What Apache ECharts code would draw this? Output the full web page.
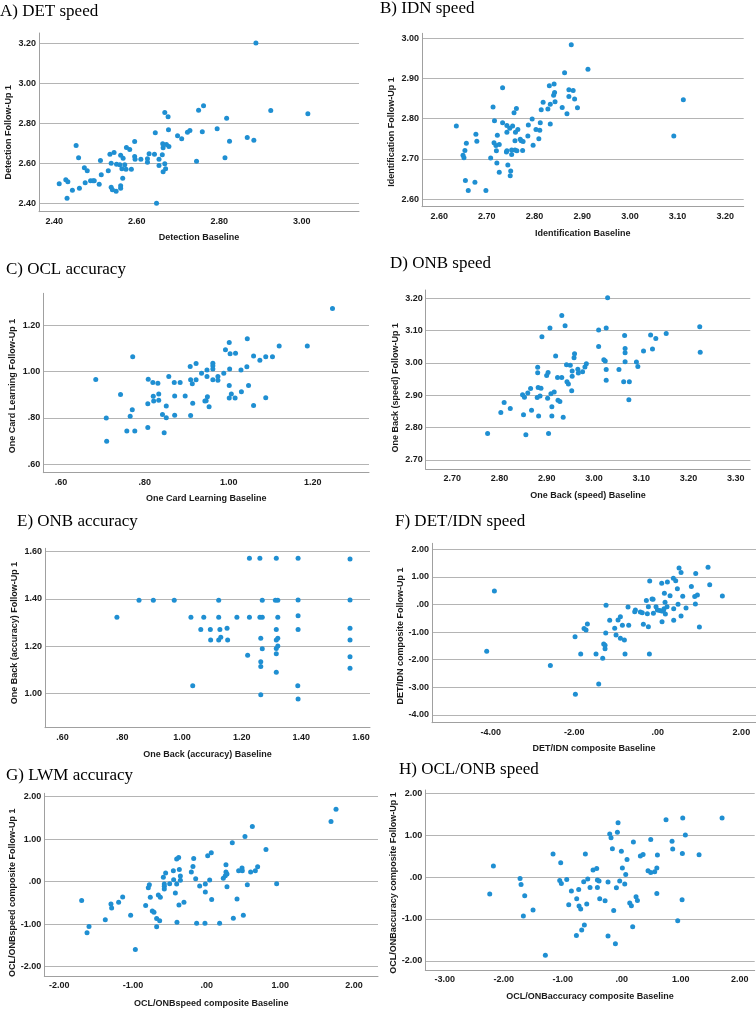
<!DOCTYPE html>
<html><head><meta charset="utf-8">
<script src="https://cdn.jsdelivr.net/npm/echarts@6/dist/echarts.min.js"></script>
<style>html,body{margin:0;padding:0;background:#fff}#c{width:756px;height:1009px}</style>
</head><body><div id="c"></div>
<script>
// ---------- DATA (baseline, follow-up 1) ----------
const detSpeed = [[2.412,2.498],[2.428,2.517],[2.433,2.508],[2.431,2.425],[2.444,2.465],[2.453,2.688],[2.459,2.627],[2.461,2.475],[2.473,2.577],[2.475,2.503],[2.480,2.563],[2.488,2.513],[2.494,2.513],[2.497,2.513],[2.509,2.495],[2.512,2.613],[2.514,2.542],[2.531,2.562],[2.535,2.645],[2.538,2.600],[2.538,2.480],[2.541,2.467],[2.545,2.653],[2.550,2.460],[2.551,2.595],[2.559,2.592],[2.561,2.640],[2.561,2.488],[2.561,2.475],[2.564,2.573],[2.566,2.525],[2.567,2.625],[2.571,2.592],[2.574,2.570],[2.575,2.678],[2.583,2.668],[2.587,2.570],[2.595,2.708],[2.595,2.633],[2.596,2.620],[2.610,2.620],[2.626,2.622],[2.626,2.605],[2.630,2.647],[2.643,2.645],[2.645,2.752],[2.648,2.400],[2.654,2.620],[2.654,2.588],[2.662,2.642],[2.663,2.697],[2.664,2.677],[2.664,2.558],[2.668,2.853],[2.668,2.597],[2.670,2.573],[2.672,2.693],[2.676,2.832],[2.677,2.767],[2.678,2.683],[2.699,2.737],[2.709,2.722],[2.723,2.755],[2.729,2.763],[2.745,2.610],[2.750,2.865],[2.759,2.757],[2.762,2.887],[2.795,2.772],[2.814,2.627],[2.818,2.825],[2.825,2.710],[2.868,2.728],[2.884,2.715],[2.889,3.200],[2.925,2.863],[3.015,2.847]];
const idnSpeed = [[2.636,2.782],[2.650,2.709],[2.652,2.703],[2.654,2.721],[2.655,2.646],[2.657,2.739],[2.661,2.621],[2.675,2.642],[2.677,2.761],[2.679,2.744],[2.698,2.621],[2.708,2.702],[2.713,2.829],[2.715,2.740],[2.716,2.795],[2.719,2.733],[2.720,2.720],[2.721,2.690],[2.722,2.759],[2.726,2.736],[2.726,2.667],[2.733,2.877],[2.733,2.790],[2.741,2.717],[2.742,2.783],[2.742,2.766],[2.742,2.720],[2.744,2.685],[2.748,2.776],[2.749,2.658],[2.750,2.670],[2.752,2.711],[2.752,2.722],[2.754,2.782],[2.757,2.815],[2.759,2.745],[2.759,2.722],[2.760,2.766],[2.762,2.825],[2.763,2.720],[2.765,2.773],[2.770,2.749],[2.772,2.745],[2.776,2.743],[2.775,2.721],[2.786,2.757],[2.787,2.784],[2.795,2.799],[2.797,2.734],[2.803,2.773],[2.809,2.750],[2.811,2.771],[2.812,2.790],[2.814,2.822],[2.818,2.841],[2.828,2.824],[2.831,2.882],[2.833,2.836],[2.833,2.787],[2.840,2.858],[2.841,2.886],[2.842,2.865],[2.843,2.842],[2.858,2.828],[2.863,2.914],[2.868,2.812],[2.872,2.872],[2.872,2.855],[2.877,2.984],[2.881,2.870],[2.884,2.849],[2.890,2.827],[2.912,2.923],[3.092,2.757],[3.112,2.847]];
const oclAcc = [[0.683,0.966],[0.708,0.800],[0.709,0.699],[0.742,0.901],[0.757,0.744],[0.765,0.807],[0.770,0.835],[0.771,1.064],[0.776,0.744],[0.807,0.759],[0.807,0.861],[0.808,0.967],[0.819,0.953],[0.820,0.893],[0.821,0.873],[0.831,0.949],[0.833,0.903],[0.833,0.876],[0.842,0.815],[0.846,0.736],[0.851,0.851],[0.851,0.801],[0.857,0.979],[0.870,0.953],[0.871,0.894],[0.871,0.812],[0.884,0.953],[0.896,0.894],[0.908,1.022],[0.909,0.965],[0.909,0.811],[0.913,0.947],[0.914,0.863],[0.922,1.035],[0.922,0.965],[0.935,0.992],[0.943,0.873],[0.946,0.874],[0.948,1.006],[0.948,0.979],[0.949,0.891],[0.953,0.848],[0.962,1.036],[0.962,1.025],[0.962,1.011],[0.962,0.965],[0.974,0.978],[0.974,0.962],[0.988,0.992],[0.992,1.094],[1.001,1.125],[1.001,0.940],[1.001,0.886],[1.002,1.011],[1.003,1.077],[1.006,0.903],[1.015,0.886],[1.016,1.079],[1.029,1.006],[1.030,0.913],[1.043,1.021],[1.044,1.141],[1.047,0.940],[1.059,0.854],[1.059,1.067],[1.074,1.049],[1.088,1.064],[1.088,0.887],[1.104,1.064],[1.120,1.110],[1.187,1.110],[1.247,1.272]];
const onbSpeed = [[2.775,2.782],[2.803,2.847],[2.810,2.878],[2.823,2.859],[2.849,2.902],[2.851,2.840],[2.853,2.894],[2.856,2.778],[2.860,2.907],[2.866,2.921],[2.868,2.854],[2.880,2.893],[2.881,2.987],[2.881,2.970],[2.882,2.924],[2.883,2.836],[2.886,2.898],[2.888,2.922],[2.890,3.081],[2.900,2.961],[2.902,2.891],[2.903,2.971],[2.904,2.782],[2.907,3.108],[2.909,2.905],[2.911,2.865],[2.911,2.836],[2.916,2.910],[2.919,3.022],[2.923,2.955],[2.924,2.885],[2.928,2.881],[2.932,3.147],[2.932,2.955],[2.935,2.832],[2.939,3.115],[2.942,2.995],[2.943,2.942],[2.946,2.935],[2.950,2.993],[2.953,2.914],[2.954,2.975],[2.954,2.959],[2.958,3.016],[2.959,3.029],[2.967,2.969],[2.966,2.981],[2.976,2.973],[2.981,2.988],[2.984,2.998],[3.010,3.102],[3.010,3.051],[3.021,3.010],[3.024,3.006],[3.026,3.108],[3.026,2.980],[3.026,2.947],[3.029,3.202],[3.053,2.980],[3.063,2.942],[3.065,3.085],[3.066,3.032],[3.066,3.045],[3.066,3.004],[3.074,2.886],[3.075,2.942],[3.090,3.003],[3.093,2.989],[3.105,3.037],[3.120,3.087],[3.124,3.043],[3.131,3.076],[3.153,3.091],[3.224,3.112],[3.225,3.033]];
const onbAcc = [[0.782,1.322],[0.856,1.394],[0.904,1.394],[0.974,1.394],[1.030,1.322],[1.036,1.032],[1.063,1.270],[1.073,1.322],[1.095,1.270],[1.096,1.226],[1.123,1.322],[1.123,1.394],[1.123,1.226],[1.127,1.270],[1.130,1.237],[1.151,1.275],[1.153,1.226],[1.184,1.322],[1.220,1.161],[1.226,1.572],[1.226,1.322],[1.261,1.322],[1.261,1.572],[1.264,1.233],[1.264,1.133],[1.264,1.113],[1.264,0.994],[1.269,1.394],[1.269,1.322],[1.269,1.188],[1.313,1.394],[1.316,1.572],[1.316,1.270],[1.316,1.226],[1.316,1.189],[1.316,1.167],[1.316,1.089],[1.321,1.394],[1.321,1.322],[1.321,1.233],[1.321,1.200],[1.389,1.572],[1.389,1.395],[1.389,1.328],[1.389,1.270],[1.388,1.032],[1.389,0.976],[1.563,1.569],[1.563,1.395],[1.563,1.275],[1.563,1.226],[1.563,1.155],[1.563,1.106]];
const detIdnSpeed = [[-4.096,-1.694],[-3.912,0.491],[-2.572,-2.213],[-1.981,-1.163],[-1.973,-3.252],[-1.846,-1.791],[-1.766,-0.873],[-1.718,-0.922],[-1.686,-0.704],[-1.479,-1.791],[-1.415,-2.877],[-1.319,-1.948],[-1.295,-1.429],[-1.263,-1.598],[-1.263,-1.477],[-1.247,-1.030],[-1.239,-0.028],[-1.152,-0.572],[-1.032,-0.861],[-1.000,-1.103],[-0.952,-0.559],[-0.896,-0.439],[-0.896,-1.223],[-0.848,-0.753],[-0.800,-1.284],[-0.785,-1.791],[-0.713,-0.089],[-0.697,-0.753],[-0.553,-0.258],[-0.537,-0.197],[-0.418,-0.270],[-0.372,-0.294],[-0.346,-0.716],[-0.274,0.141],[-0.250,-0.330],[-0.226,-0.801],[-0.226,-0.077],[-0.194,0.853],[-0.202,-1.791],[-0.138,0.201],[-0.114,0.189],[-0.106,-0.318],[-0.043,-0.077],[-0.011,-0.197],[0.045,-0.221],[0.093,0.769],[0.093,-0.233],[0.101,-0.620],[0.133,-0.233],[0.149,-0.149],[0.157,0.406],[0.173,0.080],[0.181,-0.342],[0.221,-0.077],[0.229,0.817],[0.293,0.322],[0.372,0.950],[0.380,-0.149],[0.380,-0.572],[0.428,0.865],[0.468,0.575],[0.484,0.008],[0.508,1.324],[0.556,1.155],[0.556,-0.415],[0.596,0.298],[0.675,-0.125],[0.803,0.648],[0.883,0.286],[0.899,0.020],[0.907,1.119],[0.947,0.346],[0.995,-0.813],[1.202,1.348],[1.242,0.720],[1.545,0.310]];
const lwmAcc = [[-1.697,-0.445],[-1.624,-1.203],[-1.597,-1.055],[-1.376,-0.898],[-1.299,-0.523],[-1.290,-0.617],[-1.195,-0.484],[-1.140,-0.359],[-1.032,-0.789],[-0.968,-1.594],[-0.828,-0.563],[-0.792,-0.141],[-0.778,-0.070],[-0.765,-0.367],[-0.738,-0.688],[-0.715,-0.719],[-0.679,-0.867],[-0.679,-1.063],[-0.656,-0.313],[-0.638,-0.922],[-0.629,-0.367],[-0.588,0.102],[-0.575,-0.055],[-0.575,-0.109],[-0.575,-0.172],[-0.557,0.203],[-0.502,-0.047],[-0.452,0.258],[-0.448,0.047],[-0.425,-0.266],[-0.407,0.531],[-0.407,-0.055],[-0.403,-0.953],[-0.380,0.570],[-0.376,-0.547],[-0.371,0.289],[-0.357,0.133],[-0.357,0.031],[-0.308,-0.484],[-0.208,0.227],[-0.186,0.359],[-0.176,0.547],[-0.149,0.070],[-0.136,-0.977],[-0.095,-0.102],[-0.023,-0.977],[-0.018,-0.055],[-0.018,-0.242],[0.014,0.609],[0.041,0.039],[0.063,0.680],[0.068,-0.422],[0.176,-0.977],[0.226,0.078],[0.253,0.141],[0.262,0.398],[0.262,0.227],[0.276,0.180],[0.276,-0.117],[0.348,0.914],[0.362,-0.859],[0.412,-0.406],[0.434,0.258],[0.480,0.320],[0.484,0.258],[0.498,-0.789],[0.520,1.063],[0.552,-0.070],[0.597,0.227],[0.620,1.297],[0.661,0.258],[0.692,0.352],[0.805,0.758],[0.950,-0.047],[1.688,1.414],[1.756,1.703]];
const oclOnbSpeed = [[-2.237,-0.406],[-2.175,0.263],[-1.723,-0.032],[-1.706,-0.175],[-1.644,-0.446],[-1.667,-0.932],[-1.503,-0.789],[-1.294,-1.865],[-1.164,0.550],[-1.051,-0.080],[-1.034,0.343],[-1.023,-0.151],[-0.932,-0.056],[-0.898,-0.661],[-0.853,-0.335],[-0.763,-0.518],[-0.768,-1.394],[-0.729,-0.295],[-0.723,-0.693],[-0.695,-0.765],[-0.678,-1.267],[-0.644,-0.112],[-0.633,-1.147],[-0.616,0.550],[-0.593,-0.645],[-0.576,-0.048],[-0.537,-0.247],[-0.486,0.167],[-0.424,0.207],[-0.412,-0.247],[-0.412,-0.072],[-0.384,-0.096],[-0.373,-0.518],[-0.282,-0.566],[-0.232,-0.120],[-0.232,-1.410],[-0.203,1.028],[-0.181,0.940],[-0.158,0.677],[-0.136,-0.797],[-0.107,-1.594],[-0.090,-0.255],[-0.073,1.068],[-0.062,1.299],[-0.034,-0.096],[-0.006,0.614],[0.011,0.215],[0.051,-0.167],[0.068,0.064],[0.090,0.422],[0.136,-0.622],[0.164,-0.685],[0.186,-1.187],[0.198,0.837],[0.243,-0.470],[0.266,-0.558],[0.316,0.502],[0.362,0.542],[0.446,0.151],[0.492,0.112],[0.492,0.900],[0.559,0.127],[0.595,0.215],[0.595,-0.390],[0.605,0.526],[0.751,1.371],[0.853,0.853],[0.864,0.669],[0.949,-1.044],[1.023,-0.542],[1.028,0.566],[1.034,1.410],[1.079,1.004],[1.311,0.534],[1.701,1.410]];

// ---------- TICKS ----------
const ticksAx = [2.4, 2.6, 2.8, 3.0];
const ticksAy = [2.4, 2.6, 2.8, 3.0, 3.2];
const ticksBx = [2.6, 2.7, 2.8, 2.9, 3.0, 3.1, 3.2];
const ticksBy = [2.6, 2.7, 2.8, 2.9, 3.0];
const ticksCx = [0.6, 0.8, 1.0, 1.2];
const ticksCy = [0.6, 0.8, 1.0, 1.2];
const ticksDx = [2.7, 2.8, 2.9, 3.0, 3.1, 3.2, 3.3];
const ticksDy = [2.7, 2.8, 2.9, 3.0, 3.1, 3.2];
const ticksEx = [0.6, 0.8, 1.0, 1.2, 1.4, 1.6];
const ticksEy = [1.0, 1.2, 1.4, 1.6];
const ticksFx = [-4, -2, 0, 2];
const ticksFy = [-4, -3, -2, -1, 0, 1, 2];
const ticksGx = [-2, -1, 0, 1, 2];
const ticksGy = [-2, -1, 0, 1, 2];
const ticksHx = [-3, -2, -1, 0, 1, 2];
const ticksHy = [-2, -1, 0, 1, 2];

const titles = ['A) DET speed','B) IDN speed','C) OCL accuracy','D) ONB speed','E) ONB accuracy','F) DET/IDN speed','G) LWM accuracy','H) OCL/ONB speed'];
const xNames = ['Detection Baseline','Identification Baseline','One Card Learning Baseline','One Back (speed) Baseline','One Back (accuracy) Baseline','DET/IDN composite Baseline','OCL/ONBspeed composite Baseline','OCL/ONBaccuracy composite Baseline'];
const yNames = ['Detection Follow-Up 1','Identification Follow-Up 1','One Card Learning Follow-Up 1','One Back (speed) Follow-Up 1','One Back (accuracy) Follow-Up 1','DET/IDN composite Follow-Up 1','OCL/ONBspeed composite Follow-Up 1','OCL/ONBaccuracy composite Follow-Up 1'];

// ---------- LAYOUT ----------
// yShift: downward shift (px) of the rotated y-axis name relative to the plot centre
const panels = [
  {data: detSpeed,    tx: ticksAx, ty: ticksAy, xr:[2.363,3.139], yr:[2.358,3.25],  grid:[39,33,320,178.7],    title:[0,3],   yShift:10, xGap:21},
  {data: idnSpeed,    tx: ticksBx, ty: ticksBy, xr:[2.564,3.2386], yr:[2.581,3.0124], grid:[422,33.3,321.7,173.4], title:[380,0], yShift:12, xGap:22},
  {data: oclAcc,      tx: ticksCx, ty: ticksCy, xr:[0.558,1.334], yr:[0.564,1.337], grid:[43.3,293.3,325.7,179.4], title:[6,261], yShift:3, xGap:21},
  {data: onbSpeed,    tx: ticksDx, ty: ticksDy, xr:[2.644,3.331], yr:[2.671,3.226], grid:[425.7,290,324.6,179.3], title:[390,255], yShift:8, xGap:22},
  {data: onbAcc,      tx: ticksEx, ty: ticksEy, xr:[0.541,1.630], yr:[0.854,1.614], grid:[45,548.3,325,179.4],   title:[17,513], yShift:-5, xGap:22},
  {data: detIdnSpeed, tx: ticksFx, ty: ticksFy, xr:[-5.405,2.35], yr:[-4.28,2.217], grid:[432,543.3,324,179.4],  title:[395,513], yShift:3, xGap:21},
  {data: lwmAcc,      tx: ticksGx, ty: ticksGy, xr:[-2.204,2.326], yr:[-2.22,2.08], grid:[44.3,793.3,333.7,183.4], title:[6,767], yShift:8, xGap:23},
  {data: oclOnbSpeed, tx: ticksHx, ty: ticksHy, xr:[-3.329,2.254], yr:[-2.22,2.08], grid:[425.3,790,329.4,180],   title:[399,761], yShift:3, xGap:22}
];

function fmt(v){
  let s = Math.abs(v).toFixed(2);
  if (s.charAt(0) === '0') s = s.slice(1);
  return (v < 0 ? '-' : '') + s;
}

const GRID_COLOR = '#b4b4b4';
const AXIS_COLOR = '#a0a0a0';
const DOT = '#1f8fd2';
const labelFont = {fontFamily:'Liberation Sans, Arial, sans-serif', fontWeight:'bold', fontSize:9, color:'#1a1a1a'};

const option = {animation:false, backgroundColor:'#fff', title:[], grid:[], xAxis:[], yAxis:[], series:[]};
panels.forEach((p, i) => {
  option.title.push({text: titles[i], left: p.title[0], top: p.title[1], padding:0,
    textStyle:{fontFamily:'Liberation Serif, Times New Roman, serif', fontWeight:'normal', fontSize:17, color:'#000'}});
  option.grid.push({left:p.grid[0], top:p.grid[1], width:p.grid[2], height:p.grid[3], containLabel:false});
  option.xAxis.push({type:'value', gridIndex:i, min:p.xr[0], max:p.xr[1],
    name: xNames[i], nameLocation:'middle', nameGap:p.xGap,
    nameTextStyle: labelFont,
    axisLine:{show:true, onZero:false, lineStyle:{color:AXIS_COLOR, width:1}},
    axisTick:{show:false, customValues:p.tx},
    axisLabel:Object.assign({customValues:p.tx, formatter:fmt, margin:5, hideOverlap:false}, labelFont),
    splitLine:{show:false}});
  const s = p.yShift * 2;
  const namePad = s >= 0 ? [0, s, 0, 0] : [0, 0, 0, -s];
  option.yAxis.push({type:'value', gridIndex:i, min:p.yr[0], max:p.yr[1],
    name: yNames[i], nameLocation:'middle', nameGap:26, nameRotate:90,
    nameTextStyle: Object.assign({padding: namePad}, labelFont),
    axisLine:{show:true, onZero:false, lineStyle:{color:AXIS_COLOR, width:1}},
    axisTick:{show:false, customValues:p.ty},
    axisLabel:Object.assign({customValues:p.ty, formatter:fmt, margin:3, hideOverlap:false}, labelFont),
    splitLine:{show:true, lineStyle:{color:GRID_COLOR, width:1}}});
  option.series.push({type:'scatter', xAxisIndex:i, yAxisIndex:i, data:p.data,
    symbol:'circle', symbolSize:5, itemStyle:{color:DOT, opacity:1}, silent:true});
});

const chart = echarts.init(document.getElementById('c'), null, {renderer:'canvas'});
chart.setOption(option);
</script>
</body></html>
